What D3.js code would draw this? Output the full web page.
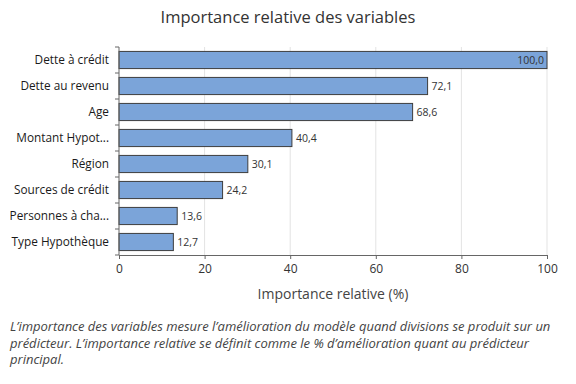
<!DOCTYPE html>
<html>
<head>
<meta charset="utf-8">
<script src="https://cdn.jsdelivr.net/npm/d3@7"></script>
<style>
  body { margin: 0; background: #fff; }
  svg { font-family: "Open Sans", "Noto Sans", sans-serif; }
</style>
</head>
<body>
<svg id="chart" width="576" height="384"></svg>
<script>
// data
const variables = ['Dette à crédit', 'Dette au revenu', 'Age', 'Montant Hypot...',
  'Région', 'Sources de crédit', 'Personnes à cha...', 'Type Hypothèque']
const importance = [100.0, 72.1, 68.6, 40.4, 30.1, 24.2, 13.6, 12.7]
const xTicks = [0, 20, 40, 60, 80, 100]

const svg = d3.select('#chart')
const plotLeft = 119, plotRight = 547, plotTop = 47, plotBottom = 255

const x = d3.scaleLinear().domain([0, 100]).range([plotLeft, plotRight])
const y = d3.scaleBand().domain(variables).range([plotTop, plotBottom]).paddingInner(0.34).paddingOuter(0.17)

// title
svg.append('text')
  .attr('x', 288).attr('y', 23)
  .attr('text-anchor', 'middle')
  .style('font-size', '16.5px').style('fill', '#333')
  .text('Importance relative des variables')

// gridlines
svg.selectAll('.grid')
  .data(xTicks.slice(1))
  .enter().append('line')
  .attr('x1', d => x(d)).attr('x2', d => x(d))
  .attr('y1', plotTop).attr('y2', plotBottom)
  .style('stroke', '#e3e3e3').style('stroke-width', 1)

// bars
svg.selectAll('.bar')
  .data(importance)
  .enter().append('rect')
  .attr('x', x(0))
  .attr('y', (d, i) => y(variables[i]))
  .attr('width', d => x(d) - x(0))
  .attr('height', y.bandwidth())
  .style('fill', '#7ba4d9')
  .style('stroke', '#3d3d3d')
  .style('stroke-width', 1)

// value labels
svg.selectAll('.val')
  .data(importance)
  .enter().append('text')
  .attr('x', d => d >= 95 ? x(d) - 3 : x(d) + 4)
  .attr('y', (d, i) => y(variables[i]) + y.bandwidth() / 2 + 4)
  .attr('text-anchor', d => d >= 95 ? 'end' : 'start')
  .style('font-size', '10.5px').style('fill', '#333')
  .text(d => d.toFixed(1).replace('.', ','))

// y axis
svg.append('line')
  .attr('x1', plotLeft).attr('x2', plotLeft).attr('y1', plotTop).attr('y2', plotBottom)
  .style('stroke', '#666')
const bounds = d3.range(variables.length + 1).map(i => plotTop + i * (plotBottom - plotTop) / variables.length)
svg.selectAll('.ytick')
  .data(bounds)
  .enter().append('line')
  .attr('x1', plotLeft - 4).attr('x2', plotLeft).attr('y1', d => d).attr('y2', d => d)
  .style('stroke', '#666')
svg.selectAll('.ylab')
  .data(variables)
  .enter().append('text')
  .attr('x', plotLeft - 10)
  .attr('y', d => y(d) + y.bandwidth() / 2 + 4)
  .attr('text-anchor', 'end')
  .style('font-size', '11.8px').style('fill', '#1a1a1a')
  .text(d => d)

// x axis
const xAxis = svg.append('g')
  .attr('transform', `translate(0,${plotBottom})`)
  .call(d3.axisBottom(x).tickValues(xTicks).tickSize(4).tickSizeOuter(0))
xAxis.select('.domain').style('stroke', '#666')
xAxis.selectAll('.tick line').style('stroke', '#666')
xAxis.selectAll('.tick text')
  .attr('dy', '0.9em')
  .style('font-size', '12px').style('fill', '#333')
  .style('font-family', '"Open Sans", "Noto Sans", sans-serif')

svg.append('text')
  .attr('x', x(50)).attr('y', 299)
  .attr('text-anchor', 'middle')
  .style('font-size', '14px').style('fill', '#444')
  .text('Importance relative (%)')

// caption
const caption = [
  "L’importance des variables mesure l’amélioration du modèle quand divisions se produit sur un",
  "prédicteur. L’importance relative se définit comme le % d’amélioration quant au prédicteur",
  "principal."
]
svg.selectAll('.cap')
  .data(caption)
  .enter().append('text')
  .attr('x', 10)
  .attr('y', (d, i) => 331 + i * 16.5)
  .style('font-size', '13px').style('font-style', 'italic').style('fill', '#444')
  .text(d => d)
</script>
</body>
</html>
